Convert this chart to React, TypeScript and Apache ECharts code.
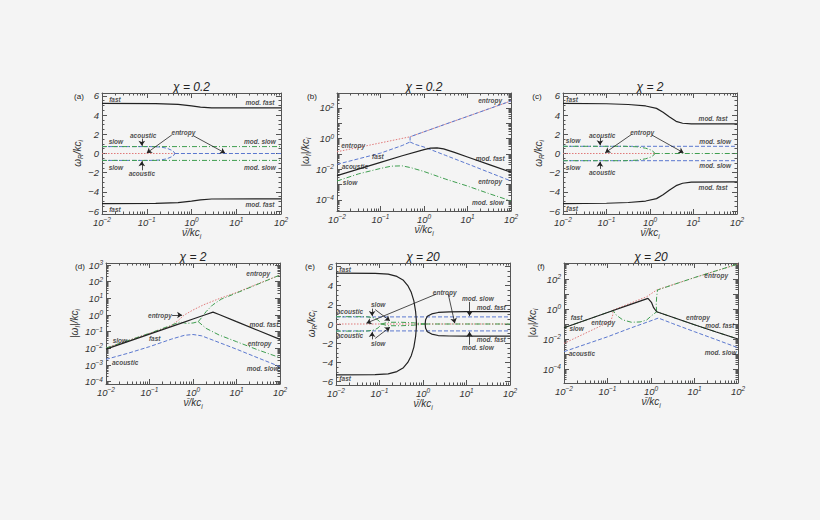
import React, { useEffect, useRef } from "react";
import * as echarts from "echarts";

type P = [number, number];
type Lab = [number, number, string];
type Arr = [number, number, number, number];

// x values are log10(nu/kc_i); y of log panels are log10(|omega_I|/kc_i)

// ---------- (a) chi = 0.2, real part ----------
const aFastUp: P[] = [[-2, 5.22], [-0.8, 5.2], [-0.3, 5.12], [0, 4.95], [0.2, 4.83], [0.45, 4.76], [2, 4.75]];
const aFastLo: P[] = [[-2, -5.22], [-0.8, -5.2], [-0.3, -5.12], [0, -4.95], [0.2, -4.82], [0.45, -4.74], [2, -4.72]];
const aSlowUp: P[] = [[-2, 0.72], [2, 0.72]];
const aSlowLo: P[] = [[-2, -0.72], [2, -0.72]];
const aAcUp: P[] = [[-2, 0.72], [-0.93, 0.72], [-0.7, 0.68], [-0.55, 0.55], [-0.45, 0.35], [-0.39, 0.15], [-0.37, 0]];
const aAcLo: P[] = [[-2, -0.72], [-0.93, -0.72], [-0.7, -0.68], [-0.55, -0.55], [-0.45, -0.35], [-0.39, -0.15], [-0.37, 0]];
const aAcMid: P[] = [[-0.37, 0], [2, 0]];
const aEnt: P[] = [[-2, 0], [-0.37, 0]];
const aLabels: Lab[] = [
  [-1.71, 5.6, "fast"], [1.53, 5.3, "mod. fast"], [-1.69, 1.3, "slow"], [-1.08, 1.9, "acoustic"],
  [-0.18, 2.15, "entropy"], [1.53, 1.3, "mod. slow"], [-1.69, -1.44, "slow"], [-1.11, -2.06, "acoustic"],
  [1.53, -1.48, "mod. slow"], [1.53, -5.36, "mod. fast"], [-1.71, -5.81, "fast"],
];
const aArrows: Arr[] = [[-1.11, 1.55, -1.11, 0.8], [-0.44, 1.93, -1.0, 0.05], [0.04, 1.85, 0.75, 0.05], [-1.11, -1.75, -1.11, -0.8]];

// ---------- (b) chi = 0.2, |imaginary part| ----------
const bEnt: P[] = [[-2, -0.86], [-1, -0.28], [-0.32, 0.12], [0.5, 0.95], [1, 1.45], [2, 2.46]];
const bAcLeft: P[] = [[-2, -1.68], [-1, -0.95], [-0.5, -0.45], [-0.32, -0.22], [-0.32, 0.12], [0.5, 0.95], [1, 1.45], [2, 2.46]];
const bAcDown: P[] = [[-0.32, -0.22], [-0.2, -0.38], [0, -0.55], [0.5, -1.1], [1, -1.65], [2, -2.77]];
const bFast: P[] = [[-2, -2.42], [-1, -1.55], [-0.5, -1.12], [0, -0.72], [0.15, -0.62], [0.3, -0.6], [0.45, -0.67], [0.7, -0.9], [1, -1.2], [1.5, -1.7], [2, -2.2]];
const bSlow: P[] = [[-2, -2.77], [-1.5, -2.3], [-1, -1.95], [-0.75, -1.8], [-0.5, -1.78], [-0.3, -1.9], [0, -2.15], [0.5, -2.65], [1, -3.1], [1.5, -3.6], [2, -4.07]];
const bLabels: Lab[] = [
  [1.52, 2.52, "entropy"], [-1.63, -0.45, "entropy"], [-1.59, -1.82, "acoustic"], [-1.06, -1.14, "fast"],
  [-1.7, -2.9, "slow"], [1.52, -1.33, "mod. fast"], [1.52, -2.77, "entropy"], [1.47, -4.2, "mod. slow"],
];

// ---------- (c) chi = 2, real part ----------
const cFastUp: P[] = [[-2, 5.22], [-1, 5.18], [-0.5, 5.1], [-0.1, 4.95], [0.15, 4.7], [0.3, 4.3], [0.45, 3.8], [0.6, 3.35], [0.75, 3.15], [0.95, 3.08], [2, 3.08]];
const cFastLo: P[] = [[-2, -5.22], [-1, -5.18], [-0.5, -5.1], [-0.1, -4.95], [0.15, -4.7], [0.3, -4.3], [0.45, -3.8], [0.6, -3.35], [0.75, -3.1], [0.95, -2.98], [2, -2.95]];
const cAcUp: P[] = [[-2, 0.75], [2, 0.75]];
const cAcLo: P[] = [[-2, -0.75], [2, -0.75]];
const cSlowUp: P[] = [[-2, 0.75], [-0.6, 0.75], [-0.3, 0.7], [-0.1, 0.55], [0.03, 0.35], [0.09, 0.15], [0.11, 0]];
const cSlowLo: P[] = [[-2, -0.75], [-0.6, -0.75], [-0.3, -0.7], [-0.1, -0.55], [0.03, -0.35], [0.09, -0.15], [0.11, 0]];
const cSlowMid: P[] = [[0.11, 0], [2, 0]];
const cEnt: P[] = [[-2, 0], [0.11, 0]];
const cLabels: Lab[] = [
  [-1.79, 5.66, "fast"], [1.45, 3.6, "mod. fast"], [-1.77, 1.38, "slow"], [-1.1, 1.92, "acoustic"],
  [-0.18, 2.21, "entropy"], [1.5, 1.2, "mod. slow"], [-1.77, -1.44, "slow"], [-1.1, -1.96, "acoustic"],
  [1.5, -1.2, "mod. slow"], [1.45, -3.55, "mod. fast"], [-1.79, -5.72, "fast"],
];
const cArrows: Arr[] = [[-1.15, 1.66, -1.15, 0.86], [-0.42, 2.0, -1.03, 0.08], [0.04, 1.93, 0.77, 0.08], [-1.15, -1.6, -1.15, -0.86]];

// ---------- (d) chi = 2, |imaginary part| ----------
const dFast: P[] = [[-2, -2.05], [-1, -1.15], [-0.3, -0.52], [0, -0.24], [0.3, 0.03], [0.46, 0.17], [0.6, 0.03], [1, -0.4], [1.5, -0.93], [2, -1.46]];
const dSlow: P[] = [[-2, -1.98], [-1, -1.1], [-0.3, -0.42], [-0.15, -0.5], [0, -0.48], [0.12, -0.4]];
const dSlowUp: P[] = [[0.12, -0.4], [0.2, -0.15], [0.3, 0.2], [0.45, 0.6], [0.65, 0.95], [1, 1.32], [1.5, 1.86], [2, 2.4]];
const dSlowDown: P[] = [[0.12, -0.4], [0.3, -0.8], [0.6, -1.2], [1, -1.6], [1.5, -2.1], [2, -2.56]];
const dEnt: P[] = [[-2, -1.98], [-1, -1.1], [-0.53, -0.68], [-0.35, -0.35], [-0.2, 0.0], [0, 0.3], [0.25, 0.62], [0.6, 0.98], [1, 1.35], [1.5, 1.88], [2, 2.4]];
const dAc: P[] = [[-2, -2.66], [-1.5, -2.3], [-1, -1.9], [-0.5, -1.45], [-0.2, -1.22], [0, -1.17], [0.2, -1.25], [0.5, -1.55], [1, -2.05], [1.5, -2.58], [2, -3.1]];
const dLabels: Lab[] = [
  [1.5, 2.5, "entropy"], [-0.76, 0.0, "entropy"], [1.63, -0.56, "mod. fast"], [-1.68, -1.5, "slow"],
  [-0.88, -1.4, "fast"], [1.53, -1.7, "entropy"], [-1.56, -2.84, "acoustic"], [1.6, -3.2, "mod. slow"],
];
const dArrows: Arr[] = [[-0.48, 0.0, -0.25, 0.0]];

// ---------- (e) chi = 20, real part ----------
const eFastUp: P[] = [[-2, 5.3], [-1.1, 5.28], [-0.8, 5.2], [-0.6, 4.95], [-0.45, 4.55], [-0.35, 4.0], [-0.27, 3.3], [-0.21, 2.4], [-0.17, 1.3], [-0.155, 0.5], [-0.15, 0]];
const eFastLo: P[] = [[-2, -5.3], [-1.1, -5.28], [-0.8, -5.2], [-0.6, -4.95], [-0.45, -4.55], [-0.35, -4.0], [-0.27, -3.3], [-0.21, -2.4], [-0.17, -1.3], [-0.155, -0.5], [-0.15, 0]];
const eModFastUp: P[] = [[0.05, 0], [0.06, 0.45], [0.1, 0.8], [0.2, 1.05], [0.35, 1.2], [0.6, 1.27], [1, 1.28], [2, 1.28]];
const eModFastLo: P[] = [[0.05, 0], [0.06, -0.45], [0.1, -0.8], [0.2, -1.05], [0.35, -1.2], [0.6, -1.25], [1, -1.26], [2, -1.26]];
const eAcUp: P[] = [[-2, 0.74], [2, 0.74]];
const eAcLo: P[] = [[-2, -0.72], [2, -0.72]];
const eSlowUp: P[] = [[-2, 0.76], [-1.3, 0.76], [-1.12, 0.64], [-1.03, 0.4], [-0.98, 0.15], [-0.96, 0]];
const eSlowLo: P[] = [[-2, -0.74], [-1.3, -0.74], [-1.12, -0.62], [-1.03, -0.4], [-0.98, -0.15], [-0.96, 0]];
const eSlowIn1: P[] = [[-0.96, 0], [-0.8, 0.18], [-0.5, 0.18], [-0.2, 0.12], [0.05, 0]];
const eSlowIn2: P[] = [[-0.96, 0], [-0.8, -0.18], [-0.5, -0.18], [-0.2, -0.12], [0.05, 0]];
const eSlowMid: P[] = [[0.05, 0], [2, 0]];
const eEnt: P[] = [[-2, 0], [2, 0]];
const eLabels: Lab[] = [
  [-1.79, 5.66, "fast"], [-1.79, -5.72, "fast"], [0.5, 3.33, "entropy"], [-1.03, 2.0, "slow"],
  [-1.68, 1.3, "acoustic"], [-1.68, -1.2, "acoustic"], [-1.03, -2.0, "slow"], [1.26, 2.63, "mod. slow"],
  [1.57, 1.76, "mod. fast"], [1.57, -1.65, "mod. fast"], [1.26, -2.45, "mod. slow"],
];
const eArrows: Arr[] = [
  [0.31, 3.12, -1.3, 0.09], [0.58, 3.12, 0.73, 0.09], [-1.17, 1.6, -1.17, 0.82], [-1.1, 1.5, -0.76, 0.33],
  [-1.17, -1.6, -1.17, -0.82], [-1.1, -1.5, -0.76, -0.33], [1.07, 2.3, 1.07, 0.82], [1.07, -2.17, 1.07, -0.8],
];

// ---------- (f) chi = 20, |imaginary part| ----------
const fFast: P[] = [[-2, -1.25], [-1, -0.23], [-0.5, 0.28], [-0.07, 0.71], [0.01, 0.45], [0.06, 0.09], [0.13, -0.18], [0.5, -0.55], [1, -1.05], [1.5, -1.53], [2, -2.0]];
const fSlow: P[] = [[-2, -1.25], [-1, -0.23], [-0.87, -0.1], [-0.8, -0.4], [-0.65, -0.72], [-0.45, -0.88], [-0.25, -0.86], [-0.1, -0.73], [0.01, -0.45], [0.13, -0.18], [0.5, -0.55], [1, -1.05], [1.5, -1.53], [2, -2.0]];
const fSlowUp: P[] = [[0.13, -0.18], [0.12, 0.3], [0.13, 0.8], [0.15, 1.27], [1, 2.1], [2, 3.0]];
const fEnt: P[] = [[-2, -2.29], [-1.5, -1.6], [-1.1, -1.05], [-0.92, -0.78], [-0.88, -0.4], [-0.87, -0.07], [-0.5, 0.36], [-0.1, 0.82], [0.13, 1.27], [1, 2.1], [2, 3.0]];
const fAc: P[] = [[-2, -2.84], [-1, -1.85], [-0.5, -1.3], [0, -0.78], [0.17, -0.6], [0.5, -0.97], [1, -1.51], [1.5, -2.04], [2, -2.58]];
const fLabels: Lab[] = [
  [-1.71, -0.58, "fast"], [-1.71, -1.29, "slow"], [-1.1, -0.89, "entropy"], [-1.59, -2.95, "acoustic"],
  [1.08, -0.58, "entropy"], [1.58, -1.11, "mod. fast"], [1.6, -2.89, "mod. slow"], [1.5, 2.27, "entropy"],
];

// ---------- axes ticks ----------
const xMajor = [-2, -1, 0, 1, 2];
const linMajor = [-6, -4, -2, 0, 2, 4, 6];
const bLogLabels = [-4, -2, 0, 2];
const dLogLabels = [-4, -3, -2, -1, 0, 1, 2, 3];
const fLogLabels = [-4, -2, 0, 2];
const titles = ["χ = 0.2", "χ = 0.2", "χ = 2", "χ = 2", "χ = 20", "χ = 20"];
const tags = ["(a)", "(b)", "(c)", "(d)", "(e)", "(f)"];

const F = "Liberation Sans";
const TXT = "#333";
const AX = "#555";
const BG = "#f4f4f4";

const RICH: any = {
  b: { fontSize: 9.5, fontStyle: "italic", fontFamily: F, color: TXT, lineHeight: 12 },
  s: { fontSize: 6.5, fontStyle: "italic", fontFamily: F, color: TXT, verticalAlign: "top" },
  i: { fontSize: 10, fontStyle: "italic", fontFamily: F, color: TXT, lineHeight: 14 },
  sub: { fontSize: 6.5, fontStyle: "italic", fontFamily: F, color: TXT, verticalAlign: "bottom" },
};

const ints = (a: number, b: number) => {
  const r: number[] = [];
  for (let i = Math.ceil(a); i <= Math.floor(b); i++) r.push(i);
  return r;
};
const logMinor = (a: number, b: number) => {
  const r: number[] = [];
  for (let d = Math.floor(a); d < b; d++)
    for (let k = 2; k <= 9; k++) {
      const v = d + Math.log10(k);
      if (v > a && v < b) r.push(v);
    }
  return r;
};
const linMinor = (a: number, b: number) => {
  const r: number[] = [];
  for (let i = Math.ceil(a * 2); i <= Math.floor(b * 2); i++) if (i % 4 !== 0) r.push(i / 2);
  return r;
};
const pow = (v: number) => `{b|10}{s|${v < 0 ? "−" + -v : v}}`;
const lin = (v: number) => `{b|${v < 0 ? "−" + -v : v}}`;

const PANELS = [
  { grid: { left: 102, top: 93, width: 179, height: 121 }, y: [-6.3, 6.3], log: false, labels: linMajor, gapY: 12, gapX: 11, tagDx: 23 },
  { grid: { left: 337, top: 93, width: 174, height: 118 }, y: [-4.73, 2.98], log: true, labels: bLogLabels, gapY: 19, gapX: 11, tagDx: 25 },
  { grid: { left: 563, top: 93, width: 174, height: 121 }, y: [-6.3, 6.3], log: false, labels: linMajor, gapY: 13, gapX: 11, tagDx: 26 },
  { grid: { left: 106, top: 263, width: 174, height: 121 }, y: [-4.14, 3.12], log: true, labels: dLogLabels, gapY: 22, gapX: 11, tagDx: 26 },
  { grid: { left: 336, top: 263, width: 174, height: 122 }, y: [-6.35, 6.35], log: false, labels: linMajor, gapY: 15, gapX: 11, tagDx: 26 },
  { grid: { left: 564, top: 263, width: 174, height: 120 }, y: [-4.93, 3.07], log: true, labels: fLogLabels, gapY: 18, gapX: 11, tagDx: 23 },
];

const STY: any = {
  fast: { color: "#222", width: 1.2, type: "solid" },
  ent: { color: "#e07a7a", width: 1, type: [1.5, 1.5] },
  ac: { color: "#5b78cf", width: 1, type: [4, 2] },
  slow: { color: "#3f9e50", width: 1, type: [5, 2, 1, 2] },
};

export default function App() {
  const ref = useRef<HTMLDivElement>(null);
  useEffect(() => {
    document.body.style.margin = "0";
    document.body.style.background = BG;
    const chart = echarts.init(ref.current!, undefined, { renderer: "svg" });

    const xAxis: any[] = [];
    const yAxis: any[] = [];
    const xMinor = logMinor(-2, 2);
    PANELS.forEach((p, g) => {
      const lineOn = { show: true, onZero: false, lineStyle: { color: AX, width: 1 } };
      const lineOff = { show: false, onZero: false };
      const xb: any = { type: "value", gridIndex: g, min: -2, max: 2, splitLine: { show: false } };
      xAxis.push(
        {
          ...xb, position: "bottom", axisLine: lineOn,
          axisTick: { inside: true, length: 5, customValues: xMajor, lineStyle: { color: AX } },
          axisLabel: { customValues: xMajor, formatter: pow, rich: RICH, margin: 2 },
          name: "{i|ν\u0304/kc}{sub|i}", nameLocation: "middle", nameGap: p.gapX,
          nameTextStyle: { rich: RICH },
        },
        { ...xb, position: "bottom", axisLine: lineOff, axisTick: { inside: true, length: 2.5, customValues: xMinor, lineStyle: { color: AX } }, axisLabel: { show: false } },
        { ...xb, position: "top", axisLine: lineOn, axisTick: { inside: true, length: 5, customValues: xMajor, lineStyle: { color: AX } }, axisLabel: { show: false } },
        { ...xb, position: "top", axisLine: lineOff, axisTick: { inside: true, length: 2.5, customValues: xMinor, lineStyle: { color: AX } }, axisLabel: { show: false } },
      );
      const [y0, y1] = p.y;
      const yMaj = p.log ? ints(y0, y1) : linMajor;
      const yMin = p.log ? logMinor(y0, y1) : linMinor(y0, y1);
      const yb: any = { type: "value", gridIndex: g, min: y0, max: y1, splitLine: { show: false } };
      yAxis.push(
        {
          ...yb, position: "left", axisLine: lineOn,
          axisTick: { inside: true, length: 5, customValues: yMaj, lineStyle: { color: AX } },
          axisLabel: { customValues: p.labels, formatter: p.log ? pow : lin, rich: RICH, margin: 3 },
          name: p.log ? "{i||ω}{sub|I}{i||/kc}{sub|i}" : "{i|ω}{sub|R}{i|/kc}{sub|i}",
          nameLocation: "middle", nameRotate: 90, nameGap: p.gapY, nameTextStyle: { rich: RICH },
        },
        { ...yb, position: "left", axisLine: lineOff, axisTick: { inside: true, length: 2.5, customValues: yMin, lineStyle: { color: AX } }, axisLabel: { show: false } },
        { ...yb, position: "right", axisLine: lineOn, axisTick: { inside: true, length: 5, customValues: yMaj, lineStyle: { color: AX } }, axisLabel: { show: false } },
        { ...yb, position: "right", axisLine: lineOff, axisTick: { inside: true, length: 2.5, customValues: yMin, lineStyle: { color: AX } }, axisLabel: { show: false } },
      );
    });

    const series: any[] = [];
    const L = (g: number, data: P[], kind: string) =>
      series.push({
        type: "line", xAxisIndex: g * 4, yAxisIndex: g * 4, data, symbol: "none", silent: true,
        lineStyle: STY[kind], z: kind === "fast" ? 4 : 3,
      });
    const T = (g: number, labs: Lab[]) =>
      series.push({
        type: "scatter", xAxisIndex: g * 4, yAxisIndex: g * 4, symbolSize: 1, silent: true, z: 6,
        itemStyle: { color: "rgba(0,0,0,0)" },
        data: labs.map(([x, y, t]) => ({ value: [x, y], name: t })),
        label: {
          show: true, position: "inside", formatter: "{b}", fontSize: 6.5, fontStyle: "italic",
          fontWeight: "bold", fontFamily: F, color: "#222",
        },
      });
    const A = (g: number, arr: Arr[]) =>
      series.push({
        type: "lines", coordinateSystem: "cartesian2d", xAxisIndex: g * 4, yAxisIndex: g * 4,
        symbol: ["none", "arrow"], symbolSize: 5, silent: true, z: 5,
        lineStyle: { color: "#222", width: 0.8, opacity: 1, curveness: 0 },
        data: arr.map(([a, b, c, d]) => ({ coords: [[a, b], [c, d]] })),
      });

    // (a)
    L(0, aEnt, "ent"); L(0, aAcMid, "ac"); L(0, aAcUp, "ac"); L(0, aAcLo, "ac");
    L(0, aSlowUp, "slow"); L(0, aSlowLo, "slow"); L(0, aFastUp, "fast"); L(0, aFastLo, "fast");
    T(0, aLabels); A(0, aArrows);
    // (b)
    L(1, bEnt, "ent"); L(1, bAcLeft, "ac"); L(1, bAcDown, "ac"); L(1, bSlow, "slow"); L(1, bFast, "fast");
    T(1, bLabels);
    // (c)
    L(2, cEnt, "ent"); L(2, cAcUp, "ac"); L(2, cAcLo, "ac"); L(2, cSlowUp, "slow"); L(2, cSlowLo, "slow");
    L(2, cSlowMid, "slow"); L(2, cFastUp, "fast"); L(2, cFastLo, "fast");
    T(2, cLabels); A(2, cArrows);
    // (d)
    L(3, dEnt, "ent"); L(3, dAc, "ac"); L(3, dSlow, "slow"); L(3, dSlowUp, "slow"); L(3, dSlowDown, "slow"); L(3, dFast, "fast");
    T(3, dLabels); A(3, dArrows);
    // (e)
    L(4, eEnt, "ent"); L(4, eAcUp, "ac"); L(4, eAcLo, "ac"); L(4, eSlowUp, "slow"); L(4, eSlowLo, "slow");
    L(4, eSlowIn1, "slow"); L(4, eSlowIn2, "slow"); L(4, eSlowMid, "slow");
    L(4, eFastUp, "fast"); L(4, eFastLo, "fast"); L(4, eModFastUp, "fast"); L(4, eModFastLo, "fast");
    T(4, eLabels); A(4, eArrows);
    // (f)
    L(5, fEnt, "ent"); L(5, fAc, "ac"); L(5, fFast, "fast"); L(5, fSlow, "slow"); L(5, fSlowUp, "slow");
    T(5, fLabels);

    const graphic: any[] = [];
    PANELS.forEach((p, g) => {
      graphic.push({
        type: "text", x: p.grid.left + p.grid.width / 2, y: p.grid.top - 6,
        style: { text: titles[g], align: "center", verticalAlign: "middle", fontSize: 12, fontStyle: "italic", fontFamily: F, fill: "#222" },
      });
      graphic.push({
        type: "text", x: p.grid.left - p.tagDx, y: p.grid.top + 3,
        style: { text: tags[g], align: "center", verticalAlign: "middle", fontSize: 8, fontFamily: F, fill: "#222" },
      });
    });

    chart.setOption({
      animation: false,
      backgroundColor: BG,
      grid: PANELS.map((p) => ({ ...p.grid, containLabel: false })),
      xAxis,
      yAxis,
      series,
      graphic,
    });
    return () => chart.dispose();
  }, []);
  return <div ref={ref} style={{ position: "fixed", left: 0, top: 0, width: 820, height: 520, background: BG }} />;
}
